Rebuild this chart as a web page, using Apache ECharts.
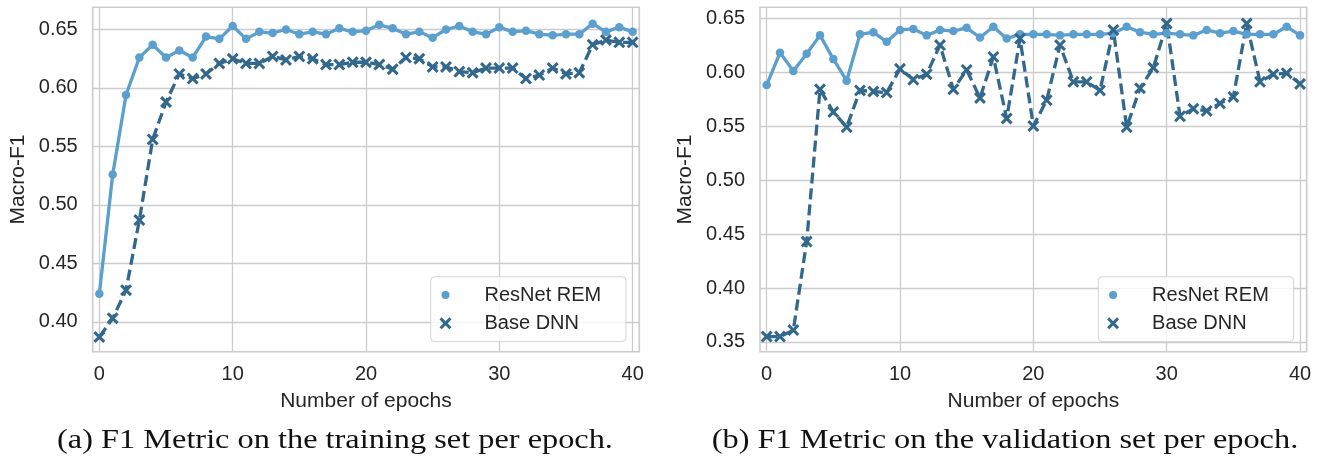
<!DOCTYPE html>
<html lang="en">
<head>
    <meta charset="UTF-8">
    <title>F1 per epoch</title>
    <script src="https://cdn.jsdelivr.net/npm/echarts@6/dist/echarts.min.js"></script>
    <style>
        html, body { margin: 0; padding: 0; background: #fff; }
    </style>
</head>
<body>
    <div id="pic1" style="width:1322px;height:463px;"></div>
    <script>
        // x axis: epochs
        var epochs = [0, 1, 2, 3, 4, 5, 6, 7, 8, 9, 10, 11, 12, 13, 14, 15, 16, 17, 18, 19, 20,
            21, 22, 23, 24, 25, 26, 27, 28, 29, 30, 31, 32, 33, 34, 35, 36, 37, 38, 39, 40];

        // (a) training set
        var trainResnet = [0.424, 0.526, 0.594, 0.626, 0.637, 0.626, 0.632, 0.626, 0.644, 0.642,
            0.653, 0.642, 0.648, 0.647, 0.650, 0.646, 0.648, 0.646, 0.651, 0.648,
            0.649, 0.654, 0.651, 0.646, 0.648, 0.643, 0.650, 0.653, 0.648, 0.646,
            0.652, 0.648, 0.649, 0.646, 0.645, 0.646, 0.646, 0.655, 0.648, 0.652,
            0.648];
        var trainBase = [0.387, 0.403, 0.427, 0.487, 0.556, 0.588, 0.612, 0.608, 0.612, 0.621,
            0.625, 0.621, 0.621, 0.627, 0.624, 0.627, 0.625, 0.620, 0.620, 0.622,
            0.622, 0.620, 0.616, 0.626, 0.625, 0.618, 0.618, 0.614, 0.613, 0.617,
            0.617, 0.617, 0.608, 0.611, 0.617, 0.612, 0.613, 0.637, 0.641, 0.639,
            0.639];

        // (b) validation set
        var valResnet = [0.588, 0.618, 0.601, 0.617, 0.634, 0.612, 0.592, 0.635, 0.637, 0.628,
            0.639, 0.640, 0.634, 0.639, 0.638, 0.641, 0.632, 0.642, 0.631, 0.635,
            0.635, 0.635, 0.634, 0.635, 0.635, 0.635, 0.636, 0.642, 0.637, 0.635,
            0.636, 0.635, 0.634, 0.639, 0.636, 0.638, 0.635, 0.635, 0.635, 0.642,
            0.634];
        var valBase = [0.355, 0.355, 0.361, 0.443, 0.584, 0.563, 0.549, 0.583, 0.582, 0.581,
            0.603, 0.593, 0.598, 0.625, 0.584, 0.602, 0.576, 0.614, 0.557, 0.631,
            0.550, 0.574, 0.625, 0.591, 0.591, 0.583, 0.639, 0.549, 0.585, 0.604,
            0.645, 0.559, 0.566, 0.564, 0.571, 0.577, 0.645, 0.591, 0.598, 0.599,
            0.589];

        // tick labels
        var xTicks = [0, 10, 20, 30, 40];
        var yTicksTrain = [0.40, 0.45, 0.50, 0.55, 0.60, 0.65];
        var yTicksVal = [0.35, 0.40, 0.45, 0.50, 0.55, 0.60, 0.65];

        var seriesNames = ['ResNet REM', 'Base DNN'];
        var captions = ['(a) F1 Metric on the training set per epoch.',
            '(b) F1 Metric on the validation set per epoch.'];

        var lightBlue = '#5b9fcf';
        var darkBlue = '#33688d';
        var gridColor = '#cccccc';
        var textColor = '#262626';
        var sans = 'Liberation Sans';

        // filled "x" marker
        var crossPath = 'path://M0,1.8L1.8,0L5,3.2L8.2,0L10,1.8L6.8,5L10,8.2L8.2,10L5,6.8L1.8,10L0,8.2L3.2,5Z';
        // legend dot, padded box so it stays smaller than the cross
        var dotPath = 'path://M0,0M12,12M6,2A4,4,0,1,1,6,10A4,4,0,1,1,6,2Z';

        function pairs(xs, ys) {
            var list = [];
            for (var i = 0; i < xs.length; i++) {
                list.push([xs[i], ys[i]]);
            }
            return list;
        }

        function makeXAxis(idx) {
            return {
                type: 'value',
                gridIndex: idx,
                min: -0.5,
                max: 40.5,
                name: 'Number of epochs',
                nameLocation: 'middle',
                nameGap: 39,
                nameTextStyle: { fontFamily: sans, fontSize: 21, color: textColor },
                axisLine: { show: false },
                axisTick: { show: false, customValues: xTicks },
                axisLabel: {
                    customValues: xTicks,
                    margin: 13,
                    fontFamily: sans,
                    fontSize: 20,
                    color: textColor
                },
                splitLine: { show: true, lineStyle: { color: gridColor, width: 1.3 } }
            };
        }

        function makeYAxis(idx, min, max, ticks) {
            return {
                type: 'value',
                gridIndex: idx,
                min: min,
                max: max,
                name: 'Macro-F1',
                nameLocation: 'middle',
                nameGap: 64,
                nameTextStyle: { fontFamily: sans, fontSize: 21, color: textColor },
                axisLine: { show: false },
                axisTick: { show: false, customValues: ticks },
                axisLabel: {
                    customValues: ticks,
                    margin: 15,
                    fontFamily: sans,
                    fontSize: 20,
                    color: textColor,
                    formatter: function (v) { return v.toFixed(2); }
                },
                splitLine: { show: true, lineStyle: { color: gridColor, width: 1.3 } }
            };
        }

        function resnetSeries(idx, values) {
            return {
                name: seriesNames[0],
                type: 'line',
                xAxisIndex: idx,
                yAxisIndex: idx,
                data: pairs(epochs, values),
                symbol: 'circle',
                symbolSize: 8.5,
                showAllSymbol: true,
                color: lightBlue,
                itemStyle: { color: lightBlue, borderWidth: 0 },
                lineStyle: { color: lightBlue, width: 3.3 }
            };
        }

        function baseSeries(idx, values) {
            return {
                name: seriesNames[1],
                type: 'line',
                xAxisIndex: idx,
                yAxisIndex: idx,
                data: pairs(epochs, values),
                symbol: crossPath,
                symbolSize: 12,
                showAllSymbol: true,
                color: darkBlue,
                itemStyle: { color: darkBlue, borderWidth: 0 },
                lineStyle: { color: darkBlue, width: 3.3, type: [11, 5] }
            };
        }

        function makeLegend(left) {
            return {
                orient: 'vertical',
                left: left,
                top: 276.7,
                itemWidth: 40,
                itemHeight: 12,
                itemGap: 8.3,
                padding: [8.3, 24.8, 8.3, 8.8],
                backgroundColor: 'rgba(255,255,255,0.8)',
                borderColor: '#d4d4d4',
                borderWidth: 1,
                borderRadius: 4,
                selectedMode: false,
                textStyle: {
                    fontFamily: sans,
                    fontSize: 20,
                    lineHeight: 20,
                    color: textColor,
                    padding: [0, 0, 0, 14]
                },
                data: [
                    { name: seriesNames[0], icon: dotPath },
                    { name: seriesNames[1], icon: crossPath }
                ]
            };
        }

        var myChart = echarts.init(document.getElementById('pic1'), null, { renderer: 'canvas' });

        var option = {
            backgroundColor: '#ffffff',
            animation: false,
            grid: [
                { left: 92.7, top: 7.3, width: 546.6, height: 344.4, show: true, borderColor: gridColor, borderWidth: 1.6, containLabel: false },
                { left: 760, top: 7.3, width: 546.7, height: 344.4, show: true, borderColor: gridColor, borderWidth: 1.6, containLabel: false }
            ],
            xAxis: [makeXAxis(0), makeXAxis(1)],
            yAxis: [
                makeYAxis(0, 0.3744, 0.669, yTicksTrain),
                makeYAxis(1, 0.341, 0.660, yTicksVal)
            ],
            legend: [makeLegend(430.7), makeLegend(1098.3)],
            series: [
                resnetSeries(0, trainResnet),
                baseSeries(0, trainBase),
                resnetSeries(1, valResnet),
                baseSeries(1, valBase)
            ],
            // captions, stretched a little to match the wider serif of the original
            graphic: [
                {
                    type: 'text', x: 335, y: 441, scaleX: 1.155,
                    style: { text: captions[0], font: '28px "Liberation Serif"', fill: '#111111', align: 'center', verticalAlign: 'middle' }
                },
                {
                    type: 'text', x: 1005, y: 441, scaleX: 1.155,
                    style: { text: captions[1], font: '28px "Liberation Serif"', fill: '#111111', align: 'center', verticalAlign: 'middle' }
                }
            ]
        };

        myChart.setOption(option);
    </script>
</body>
</html>
